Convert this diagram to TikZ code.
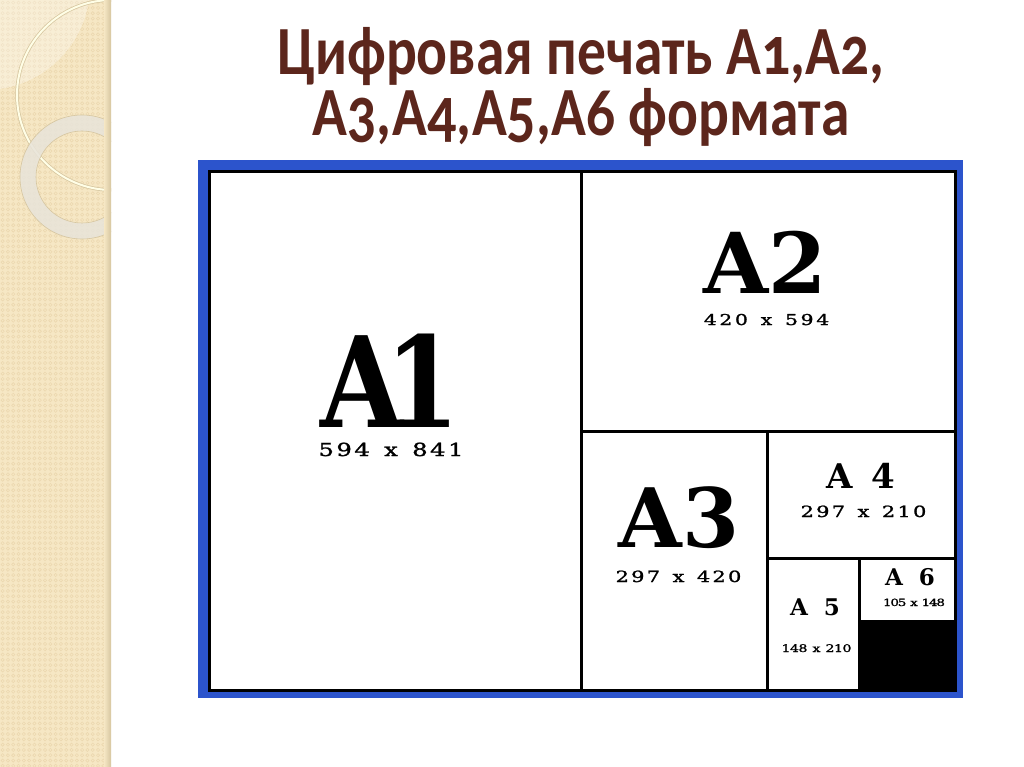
\documentclass[tikz,border=0pt]{standalone}
\usepackage{fontspec}
\newfontfamily\titlefont[Numbers=OldStyle]{Carlito}
\newfontfamily\bigfont{DejaVu Serif}
\newfontfamily\dimfont[FakeBold=1.2]{DejaVu Serif}
\definecolor{stripbg}{RGB}{246,231,196}
\definecolor{stripdot}{RGB}{236,216,176}
\definecolor{stripedge}{RGB}{214,198,160}
\definecolor{titlebrown}{RGB}{92,38,28}
\definecolor{frameblue}{RGB}{44,84,204}
\definecolor{ringgrey}{RGB}{232,228,218}
\newcommand\cellrow[2]{\def\cellw{#1}\cellrowi#2\relax}
\def\cellrowi#1{\ifx#1\relax\else\makebox[\cellw][c]{#1}\expandafter\cellrowi\fi}
% #1 pitch, #2 gap, #3 left number, #4 right number
\newcommand\dimtext[4]{\scalebox{1.35}[1]{\cellrow{#1}{#3}\hspace{#2}\makebox[#1][c]{x}\hspace{#2}\cellrow{#1}{#4}}}
\begin{document}
\begin{tikzpicture}[x=1pt,y=-1pt,
  big/.style={font=\bigfont\bfseries, inner sep=0pt, anchor=base},
  dim/.style={font=\dimfont, inner sep=0pt, anchor=base},
  divider/.style={line width=3pt, black},
  titletext/.style={font=\titlefont\bfseries\fontsize{57.5}{60}\selectfont, text=titlebrown, inner sep=0pt, anchor=base}]
\useasboundingbox (0,0) rectangle (1024,767);
\fill[white] (0,0) rectangle (1024,767);
% decorative strip
\begin{scope}
  \clip (0,0) rectangle (111,767);
  \fill[stripbg] (0,0) rectangle (111,767);
  \foreach \i in {0,...,20} {
    \foreach \j in {0,...,144} {
      \draw[stripdot, line width=0.6pt] ({2.65+5.3*\i},{2.65+5.3*\j}) circle (1.6);
    }
  }
  \fill[white, opacity=0.3] (-15,-15) circle (105);
  \draw[stripedge, line width=3.5pt] (112,95) circle (95);
  \draw[white!90!yellow, line width=2pt] (112,95) circle (95);
  \fill[ringgrey, opacity=0.85, even odd rule] (82,177) circle (62) (82,177) circle (46);
  \draw[stripedge, line width=0.6pt] (82,177) circle (62) (82,177) circle (46);
  \shade[left color=stripbg, right color=stripedge] (104,0) rectangle (111,767);
\end{scope}
% title
\node[titletext] (t1) at (581,75) {\scalebox{1}[1.2]{Цифровая печать A1,A2,}};
\node[titletext] (t2) at (581,136) {\scalebox{1}[1.2]{A3,A4,A5,A6 формата}};
% frame
\fill[frameblue] (198,160) rectangle (963,698);
\filldraw[fill=white, draw=black, line width=3pt] (209.5,172) rectangle (955.5,690.5);
\coordinate (v1t) at (581,172);
\coordinate (v1b) at (581,690.5);
\draw[divider] (v1t) -- (v1b);
\coordinate (h1l) at (581,431);
\coordinate (h1r) at (955.5,431);
\draw[divider] (h1l) -- (h1r);
\coordinate (v2t) at (767,431);
\coordinate (v2b) at (767,690.5);
\draw[divider] (v2t) -- (v2b);
\coordinate (h2l) at (767,558);
\coordinate (h2r) at (955.5,558);
\draw[divider] (h2l) -- (h2r);
\coordinate (v3t) at (859,558);
\coordinate (v3b) at (859,690.5);
\draw[divider] (v3t) -- (v3b);
\filldraw[fill=black, draw=black, line width=3pt] (859,621) rectangle (955.5,690.5);
% labels
\node[big] (a1) at (390,427) {\scalebox{0.85}[1]{\fontsize{126}{126}\selectfont A\kern-22pt 1}};
\node[dim] (d1) at (391,456) {\fontsize{18}{18}\selectfont\dimtext{13.3pt}{8.1pt}{594}{841}};
\node[big] (a2) at (765,293) {\fontsize{84}{84}\selectfont A2};
\node[dim] (d2) at (766.5,325) {\fontsize{15}{15}\selectfont\dimtext{11.55pt}{7pt}{420}{594}};
\node[big] (a3) at (679,547) {\fontsize{82}{82}\selectfont A3};
\node[dim] (d3) at (678.5,582) {\fontsize{15.5}{16}\selectfont\dimtext{11.55pt}{7pt}{297}{420}};
\node[big] (a4) at (861,488) {\fontsize{34}{34}\selectfont A\kern18pt 4};
\node[dim] (d4) at (863.5,517) {\fontsize{15.5}{16}\selectfont\dimtext{11.55pt}{7pt}{297}{210}};
\node[big] (a5) at (815,615) {\fontsize{23}{23}\selectfont A\kern16pt 5};
\node[dim] (d5) at (816.5,652) {\fontsize{10.5}{11}\selectfont\dimtext{6.3pt}{3.7pt}{148}{210}};
\node[big] (a6) at (910,585) {\fontsize{23}{23}\selectfont A\kern16pt 6};
\node[dim] (d6) at (914,606) {\fontsize{10}{10}\selectfont\dimtext{5.5pt}{3.3pt}{105}{148}};
\end{tikzpicture}
\end{document}
